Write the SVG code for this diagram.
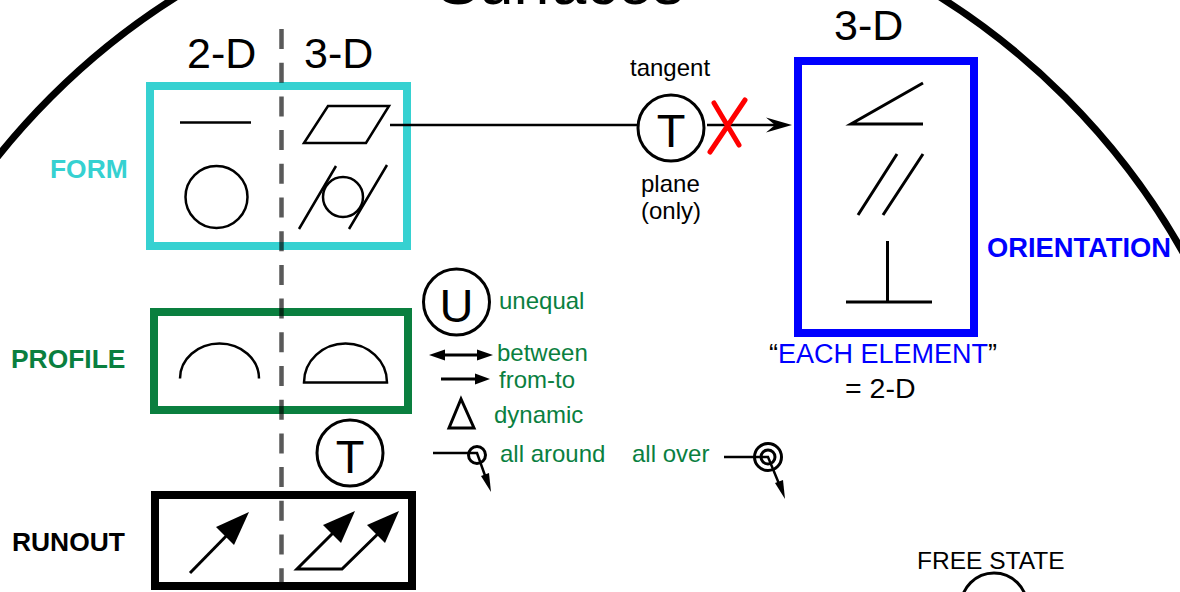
<svg xmlns="http://www.w3.org/2000/svg" width="1180" height="592" viewBox="0 0 1180 592">
<defs>
<style>
text{font-family:"Liberation Sans",Arial,sans-serif;fill:#000}
.g{fill:#0a7f3f}
.s{fill:none;stroke:#000;stroke-width:2.5}
.t{fill:none;stroke:#000;stroke-width:3}
.h{fill:#000;stroke:none}
.l{font-size:24px}
.b{font-size:26.4px;font-weight:700}
.d{font-size:43px}
.c{font-size:47px;text-anchor:middle}
.box{fill:none;stroke-width:8}
</style>
</defs>
<rect width="1180" height="592" fill="#fff"/>
<circle id="boundary" cx="558" cy="604" r="717" fill="none" stroke="#000" stroke-width="7"/>
<text id="title" x="437" y="4" font-size="62.500">Surfaces</text>

<g id="form">
<rect class="box" x="150" y="86" width="257" height="160" stroke="#36d1d1"/>
<text class="b" x="50" y="178" style="fill:#36d1d1">FORM</text>
<path class="s" d="M180 122.500H251"/>
<path class="s" d="M304 143L328 106H389L366 143Z"/>
<circle class="s" cx="216.500" cy="197" r="31"/>
<path class="s" d="M299 229L336 166M349 229L387 165"/>
<circle class="s" cx="343" cy="197" r="20"/>
</g>

<g id="profile">
<rect class="box" x="154" y="312" width="254" height="98" stroke="#0a7f3f"/>
<text class="b g" x="11" y="368">PROFILE</text>
<path class="s" d="M180 378.500A39.500 35 0 0 1 259 378.500"/>
<path class="s" d="M304 382.500A41.500 39 0 0 1 387 382.500Z"/>
</g>

<g id="runout">
<rect class="box" x="155" y="495" width="257" height="91" stroke="#000"/>
<text class="b" x="12" y="551">RUNOUT</text>
<path class="t" d="M190 573L236 526"/>
<path class="h" d="M249 512L234 545L216 527Z"/>
<path class="t" d="M341 525L297 569H342L387 525"/>
<path class="h" d="M355 511L341 543L323 525Z"/>
<path class="h" d="M399 511L385 543L367 525Z"/>
</g>

<g id="orientation">
<rect class="box" x="798" y="61" width="176" height="272" stroke="#00f"/>
<text class="b" style="fill:#00f;font-size:27.300px" x="987" y="257">ORIENTATION</text>
<path class="t" d="M923 83L851 124H923"/>
<path class="t" d="M897 154L858 215M923 154L883 215"/>
<path class="t" d="M846 302H932M887.500 241V302"/>
<text x="769" y="363" font-size="27">“<tspan style="fill:#00f">EACH ELEMENT</tspan>”</text>
<text x="845" y="398" font-size="28.500">= 2-D</text>
<text class="d" x="834" y="40">3-D</text>
</g>

<g id="headers">
<text class="d" x="187" y="68">2-D</text>
<text class="d" x="304" y="68">3-D</text>
</g>

<g id="tangent">
<circle class="t" cx="671" cy="128" r="33"/>
<text class="c" x="671" y="147">T</text>
<text class="l" x="630" y="76">tangent</text>
<text class="l" x="641" y="192">plane</text>
<text class="l" x="641" y="219">(only)</text>
</g>

<g id="unequal">
<circle class="t" cx="456.500" cy="302" r="33"/>
<text class="c" x="456.500" y="322">U</text>
<text class="l g" x="499" y="309">unequal</text>
</g>

<g id="between">
<path class="t" d="M435 355H487"/>
<path class="h" d="M429 355L445 349.500V360.500ZM493 355L477 349.500V360.500Z"/>
<text class="l g" x="497" y="361">between</text>
</g>

<g id="from-to">
<path class="t" d="M441 379H484"/>
<path class="h" d="M490 379L475 373.500V384.500Z"/>
<text class="l g" x="499" y="388">from-to</text>
</g>

<g id="dynamic">
<path class="t" d="M461 399L449 428H474Z"/>
<text class="l g" x="494" y="423">dynamic</text>
</g>

<g id="tangent-modifier">
<circle class="t" cx="350" cy="453" r="33"/>
<text class="c" x="350" y="473">T</text>
</g>

<g id="all-around">
<circle class="t" cx="477" cy="455" r="8.500"/>
<path class="s" d="M433 453H477L488 484"/>
<path class="h" d="M491 492L481 476L489 473Z"/>
<text class="l g" x="500" y="462">all around</text>
</g>

<g id="all-over">
<circle class="t" cx="768" cy="457" r="13.500"/>
<circle class="t" cx="768" cy="457" r="7"/>
<path class="s" d="M724 457H768L782 491"/>
<path class="h" d="M785 499L775 483L783 480Z"/>
<text class="l g" x="632" y="462">all over</text>
</g>

<g id="free-state">
<text class="l" style="font-size:24.500px" x="917" y="569">FREE STATE</text>
<circle class="t" cx="994" cy="606" r="33"/>
</g>

<g id="connectors">
<path class="s" d="M390 125H637M707 125H785"/>
<path class="h" d="M792 125L766 117.500L775 125L766 132.500Z"/>
<path d="M714 103L739 145M745 100L710 152" fill="none" stroke="#f00" stroke-width="5" stroke-linecap="round"/>
<path d="M281.500 29V590" fill="none" stroke="#000" stroke-opacity=".65" stroke-width="4.500" stroke-dasharray="20 13.700"/>
</g>
</svg>
